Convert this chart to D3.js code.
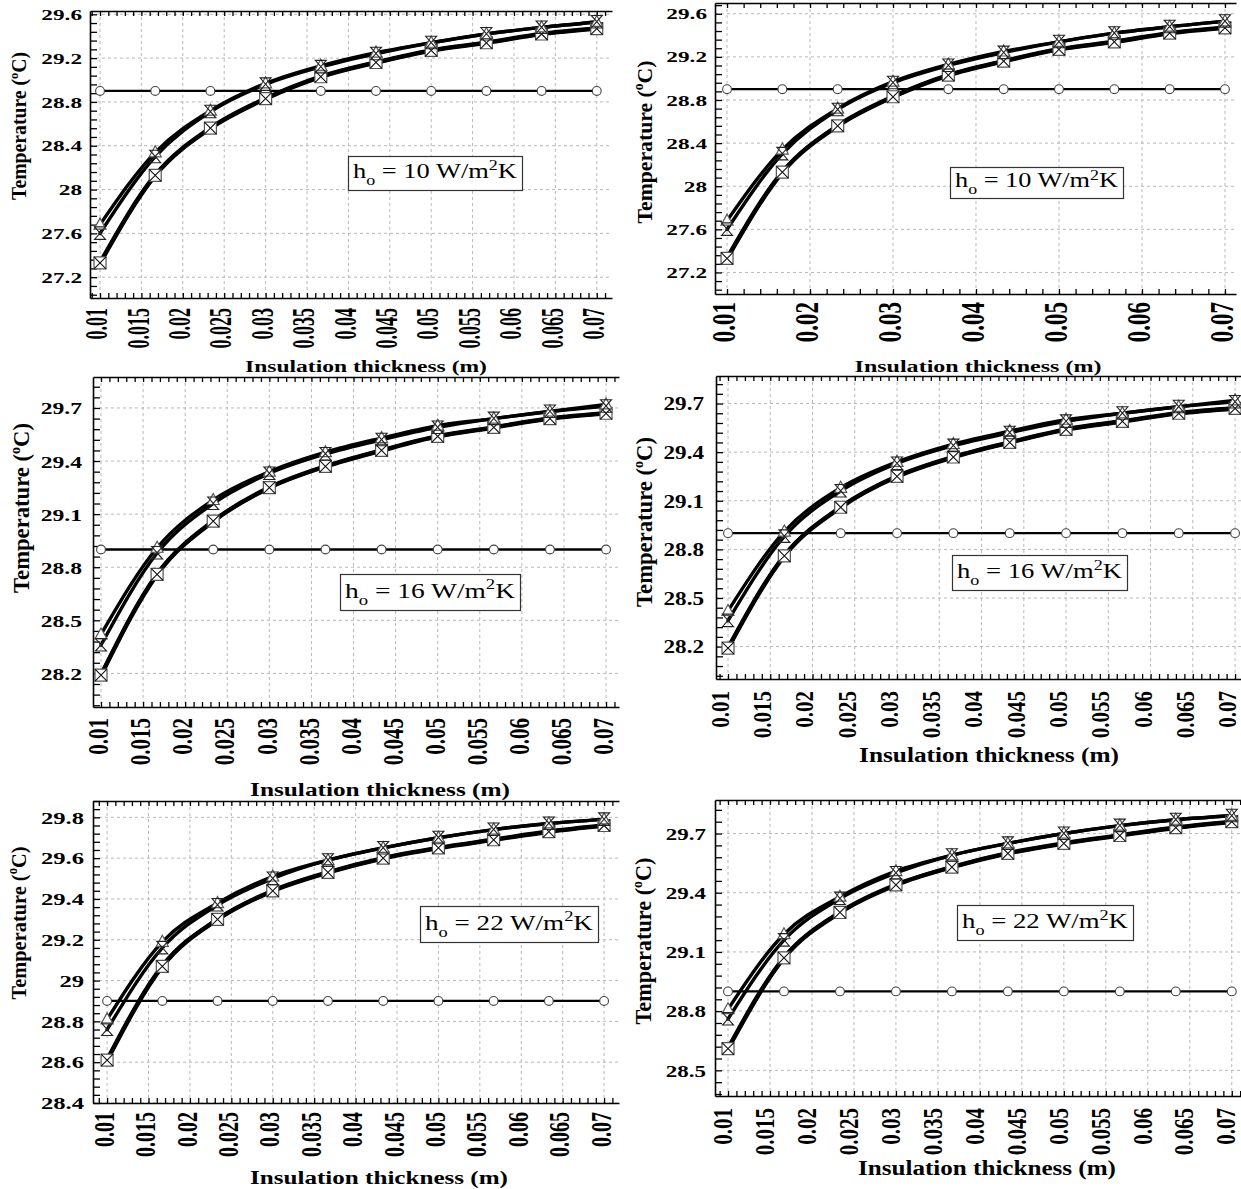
<!DOCTYPE html>
<html>
<head>
<meta charset="utf-8">
<script src="https://cdn.jsdelivr.net/npm/d3@7"></script>
<style>
  html, body { margin: 0; padding: 0; background: #ffffff; }
  svg { display: block; }
</style>
</head>
<body>
<svg id="fig" width="1241" height="1189"></svg>
<script>
// ---------------------------------------------------------------
// Data: temperature (°C) vs. insulation thickness (m)
// ---------------------------------------------------------------
const thickness = [0.01, 0.016667, 0.023333, 0.03, 0.036667, 0.043333, 0.05, 0.056667, 0.063333, 0.07];

// h_o = 10 W/m2K
const h10TriUp   = [27.68, 28.34, 28.72, 28.97, 29.13, 29.25, 29.34, 29.42, 29.48, 29.53];
const h10TriDown = [27.60, 28.30, 28.71, 28.96, 29.12, 29.24, 29.34, 29.42, 29.48, 29.53];
const h10Square  = [27.33, 28.13, 28.56, 28.83, 29.03, 29.16, 29.27, 29.34, 29.42, 29.47];
const h10Cross   = [27.33, 28.13, 28.56, 28.83, 29.03, 29.16, 29.27, 29.34, 29.42, 29.47];
const h10Ambient = [28.9, 28.9, 28.9, 28.9, 28.9, 28.9, 28.9, 28.9, 28.9, 28.9];

// h_o = 16 W/m2K
const h16TriUp   = [28.42, 28.91, 29.18, 29.34, 29.45, 29.53, 29.60, 29.64, 29.68, 29.72];
const h16TriDown = [28.36, 28.88, 29.16, 29.33, 29.44, 29.52, 29.59, 29.64, 29.68, 29.71];
const h16Square  = [28.19, 28.76, 29.06, 29.25, 29.37, 29.46, 29.54, 29.59, 29.64, 29.67];
const h16Cross   = [28.19, 28.76, 29.06, 29.25, 29.37, 29.46, 29.54, 29.59, 29.64, 29.67];
const h16Ambient = [28.9, 28.9, 28.9, 28.9, 28.9, 28.9, 28.9, 28.9, 28.9, 28.9];

// h_o = 22 W/m2K
const h22TriUp   = [28.81, 29.19, 29.38, 29.51, 29.59, 29.65, 29.70, 29.74, 29.77, 29.79];
const h22TriDown = [28.76, 29.16, 29.37, 29.50, 29.59, 29.65, 29.70, 29.74, 29.77, 29.79];
const h22Square  = [28.61, 29.07, 29.30, 29.44, 29.53, 29.60, 29.65, 29.69, 29.73, 29.76];
const h22Cross   = [28.61, 29.07, 29.30, 29.44, 29.53, 29.60, 29.65, 29.69, 29.73, 29.76];
const h22Ambient = [28.9, 28.9, 28.9, 28.9, 28.9, 28.9, 28.9, 28.9, 28.9, 28.9];

// Tick values
const xTicksFine   = [0.01, 0.015, 0.02, 0.025, 0.03, 0.035, 0.04, 0.045, 0.05, 0.055, 0.06, 0.065, 0.07];
const xTicksCoarse = [0.01, 0.02, 0.03, 0.04, 0.05, 0.06, 0.07];
const yTicks10  = [27.2, 27.6, 28, 28.4, 28.8, 29.2, 29.6];
const yTicks16  = [28.2, 28.5, 28.8, 29.1, 29.4, 29.7];
const yTicks22a = [28.4, 28.6, 28.8, 29, 29.2, 29.4, 29.6, 29.8];
const yTicks22b = [28.5, 28.8, 29.1, 29.4, 29.7];

// Text
const hValues = ["10", "16", "22"];
const xTitle = "Insulation thickness (m)";

// ---------------------------------------------------------------
// Series tables built from the arrays above
// ---------------------------------------------------------------
function seriesSet(triUp, triDown, square, cross, ambient) {
  const pts = arr => thickness.map((t, i) => ({ x: t, y: arr[i] }));
  return {
    ambient: pts(ambient),
    square: pts(square),
    cross: pts(cross),
    triUp: pts(triUp),
    triDown: pts(triDown)
  };
}
const sets = {
  "10": seriesSet(h10TriUp, h10TriDown, h10Square, h10Cross, h10Ambient),
  "16": seriesSet(h16TriUp, h16TriDown, h16Square, h16Cross, h16Ambient),
  "22": seriesSet(h22TriUp, h22TriDown, h22Square, h22Cross, h22Ambient)
};

// ---------------------------------------------------------------
// Panel layout
// ---------------------------------------------------------------
const panels = [
  { h: hValues[0], xTicks: xTicksFine, yTicks: yTicks10,
    l: 90, t: 11, r: 612, b: 298, xDom: [0.00879, 0.07184], yDom: [27.01, 29.63],
    yTick: { font: 15, sx: 1.55, gap: 8 }, xTick: { font: 18, sx: 1.7, gap: 10, dx: -4 },
    yTitle: { cx: 19, cy: 126, len: 148, font: 21 },
    xTitle: { cx: 366, cy: 366, w: 242, font: 16 },
    box: { x: 348, y: 156, w: 174, h: 34, font: 21 } },
  { h: hValues[0], xTicks: xTicksCoarse, yTicks: yTicks10,
    l: 715, t: 3, r: 1236, b: 294, xDom: [0.00855, 0.07133], yDom: [27.0, 29.70],
    yTick: { font: 15, sx: 1.55, gap: 8 }, xTick: { font: 23, sx: 1.45, gap: 8, dx: -4 },
    yTitle: { cx: 644, cy: 142, len: 163, font: 22 },
    xTitle: { cx: 978, cy: 366, w: 247, font: 16 },
    box: { x: 950, y: 167, w: 173, h: 31, font: 20 } },
  { h: hValues[1], xTicks: xTicksFine, yTicks: yTicks16,
    l: 93, t: 377, r: 619, b: 707, xDom: [0.00905, 0.07154], yDom: [28.01, 29.875],
    yTick: { font: 17.5, sx: 1.35, gap: 11 }, xTick: { font: 21, sx: 1.45, gap: 11, dx: -4 },
    yTitle: { cx: 21, cy: 508, len: 170, font: 23 },
    xTitle: { cx: 380, cy: 789, w: 260, font: 19 },
    box: { x: 340, y: 574, w: 180, h: 36, font: 22 } },
  { h: hValues[1], xTicks: xTicksFine, yTicks: yTicks16,
    l: 716, t: 376, r: 1241, b: 679, xDom: [0.00858, 0.0707], yDom: [28.0, 29.87],
    yTick: { font: 18.5, sx: 1.25, gap: 12 }, xTick: { font: 21, sx: 1.15, gap: 12, dx: -8 },
    yTitle: { cx: 644, cy: 522, len: 170, font: 23 },
    xTitle: { cx: 989, cy: 755, w: 260, font: 20 },
    box: { x: 952, y: 555, w: 175, h: 35, font: 22 } },
  { h: hValues[2], xTicks: xTicksFine, yTicks: yTicks22a,
    l: 93, t: 801, r: 619, b: 1103, xDom: [0.0083, 0.0718], yDom: [28.4, 29.88],
    yTick: { font: 17, sx: 1.45, gap: 9 }, xTick: { font: 20, sx: 1.45, gap: 9, dx: -4 },
    yTitle: { cx: 18, cy: 923, len: 153, font: 22 },
    xTitle: { cx: 379, cy: 1177, w: 258, font: 19 },
    box: { x: 420, y: 906, w: 178, h: 36, font: 22 } },
  { h: hValues[2], xTicks: xTicksFine, yTicks: yTicks22b,
    l: 715, t: 800, r: 1241, b: 1096, xDom: [0.00845, 0.0711], yDom: [28.37, 29.87],
    yTick: { font: 17, sx: 1.35, gap: 9 }, xTick: { font: 21, sx: 1.25, gap: 12, dx: -6 },
    yTitle: { cx: 643, cy: 941, len: 167, font: 23 },
    xTitle: { cx: 987, cy: 1168, w: 258, font: 20 },
    box: { x: 957, y: 905, w: 176, h: 35, font: 22 } }
];

const SERIF = "'Liberation Serif', 'Times New Roman', Times, serif";
const fmt = d3.format("~g");

// marker shapes
const markerPaths = {
  triUp:   "M0,-6.5L6,4.5L-6,4.5Z",
  triDown: "M-5.5,-6.5L5.5,-6.5L-5.5,6L5.5,6Z",
  square:  "M-6,-6H6V6H-6Z",
  cross:   "M-6,-6L6,6M6,-6L-6,6"
};

const svg = d3.select("#fig");
svg.append("rect").attr("width", 1241).attr("height", 1189).attr("fill", "#fff");

function minorTicks(ticks, dom) {
  const step = (ticks[1] - ticks[0]) / 5;
  const out = [];
  for (let k = -20; k <= 400; k++) {
    const v = ticks[0] + k * step;
    if (v < dom[0] - 1e-9 || v > dom[1] + 1e-9) continue;
    if (ticks.some(m => Math.abs(m - v) < step / 10)) continue;
    out.push(v);
  }
  return out;
}

function drawPanel(p) {
  const g = svg.append("g");
  const x = d3.scaleLinear().domain(p.xDom).range([p.l, p.r]);
  const y = d3.scaleLinear().domain(p.yDom).range([p.b, p.t]);
  const data = sets[p.h];

  // dashed grid
  const grid = g.append("g").attr("stroke", "#b8b8b8").attr("stroke-width", 1)
    .attr("stroke-dasharray", "3,3");
  grid.selectAll(".vg").data(p.xTicks).join("line")
    .attr("x1", d => x(d)).attr("x2", d => x(d))
    .attr("y1", p.t).attr("y2", p.b);
  grid.selectAll(".hg").data(p.yTicks).join("line")
    .attr("x1", p.l).attr("x2", p.r)
    .attr("y1", d => y(d)).attr("y2", d => y(d));

  const xMinor = minorTicks(p.xTicks, p.xDom);
  const yMinor = minorTicks(p.yTicks, p.yDom);

  // bottom axis
  const gx = g.append("g").attr("transform", `translate(0,${p.b})`)
    .call(d3.axisBottom(x).tickValues(p.xTicks).tickSizeInner(-5).tickSizeOuter(0).tickFormat(fmt));
  g.append("g").attr("transform", `translate(0,${p.b})`)
    .call(d3.axisBottom(x).tickValues(xMinor).tickSizeInner(-5).tickSizeOuter(0).tickFormat(""))
    .select(".domain").remove();
  // top axis
  g.append("g").attr("transform", `translate(0,${p.t})`)
    .call(d3.axisTop(x).tickValues(p.xTicks.concat(xMinor)).tickSizeInner(-5).tickSizeOuter(0).tickFormat(""));
  // left axis
  const gy = g.append("g").attr("transform", `translate(${p.l},0)`)
    .call(d3.axisLeft(y).tickValues(p.yTicks).tickSizeInner(-7).tickSizeOuter(0).tickFormat(fmt));
  g.append("g").attr("transform", `translate(${p.l},0)`)
    .call(d3.axisLeft(y).tickValues(yMinor).tickSizeInner(-7).tickSizeOuter(0).tickFormat(""))
    .select(".domain").remove();

  g.selectAll(".domain").attr("stroke", "#000").attr("stroke-width", 1.6);
  g.selectAll(".tick line").attr("stroke", "#000").attr("stroke-width", 1.3);

  gx.selectAll(".tick text")
    .attr("x", 0).attr("y", 0).attr("dy", "0.35em")
    .attr("text-anchor", "end")
    .attr("transform", `translate(${p.xTick.dx},${p.xTick.gap}) scale(${p.xTick.sx},1) rotate(-90)`)
    .attr("font-family", SERIF).attr("font-weight", "bold")
    .attr("font-size", p.xTick.font).attr("fill", "#000");

  gy.selectAll(".tick text")
    .attr("x", -p.yTick.gap / p.yTick.sx).attr("dy", "0.34em")
    .attr("text-anchor", "end")
    .attr("transform", `scale(${p.yTick.sx},1)`)
    .attr("font-family", SERIF).attr("font-weight", "bold")
    .attr("font-size", p.yTick.font).attr("fill", "#000");

  // series lines
  const line = d3.line().x(d => x(d.x)).y(d => y(d.y)).curve(d3.curveMonotoneX);
  const lines = g.append("g").attr("fill", "none").attr("stroke", "#000")
    .attr("stroke-linejoin", "round").attr("stroke-linecap", "round");
  lines.append("path").attr("d", line(data.ambient)).attr("stroke-width", 2.3);
  lines.append("path").attr("d", line(data.square)).attr("stroke-width", 4.6);
  lines.append("path").attr("d", line(data.cross)).attr("stroke-width", 3.6);
  lines.append("path").attr("d", line(data.triUp)).attr("stroke-width", 3.4);
  lines.append("path").attr("d", line(data.triDown)).attr("stroke-width", 3.4);

  // markers
  const mk = g.append("g");
  mk.selectAll(".amb").data(data.ambient).join("circle")
    .attr("cx", d => x(d.x)).attr("cy", d => y(d.y)).attr("r", 4.4)
    .attr("fill", "#fff").attr("stroke", "#444").attr("stroke-width", 1.1);
  const sym = (arr, key, fill, stroke, sw) =>
    mk.selectAll("." + key).data(arr).join("path")
      .attr("transform", d => `translate(${x(d.x)},${y(d.y)})`)
      .attr("d", markerPaths[key])
      .attr("fill", fill).attr("stroke", stroke).attr("stroke-width", sw);
  sym(data.square, "square", "#fff", "#555", 1.2);
  sym(data.cross, "cross", "none", "#111", 1.1);
  sym(data.triUp, "triUp", "#fff", "#555", 1.2);
  sym(data.triDown, "triDown", "none", "#222", 1.1);

  // y-axis title
  const yt = g.append("text")
    .attr("font-family", SERIF).attr("font-weight", "bold")
    .attr("font-size", p.yTitle.font).attr("fill", "#000")
    .attr("text-anchor", "middle").attr("dy", "0.35em");
  yt.append("tspan").text("Temperature (");
  yt.append("tspan").attr("font-size", p.yTitle.font * 0.62).attr("dy", -p.yTitle.font * 0.4).text("o");
  yt.append("tspan").attr("dy", p.yTitle.font * 0.4).text("C)");
  const ytLen = yt.node().getComputedTextLength();
  yt.attr("transform", `translate(${p.yTitle.cx},${p.yTitle.cy}) rotate(-90) scale(${p.yTitle.len / ytLen},1)`);

  // x-axis title
  const xt = g.append("text")
    .attr("font-family", SERIF).attr("font-weight", "bold")
    .attr("font-size", p.xTitle.font).attr("fill", "#000")
    .attr("text-anchor", "middle").attr("dy", "0.35em")
    .text(xTitle);
  const xtLen = xt.node().getComputedTextLength();
  xt.attr("transform", `translate(${p.xTitle.cx},${p.xTitle.cy}) scale(${p.xTitle.w / xtLen},1)`);

  // annotation box
  const bx = p.box;
  g.append("rect").attr("x", bx.x + 0.5).attr("y", bx.y + 0.5)
    .attr("width", bx.w).attr("height", bx.h)
    .attr("fill", "#fff").attr("stroke", "#333").attr("stroke-width", 1.2);
  const bt = g.append("text")
    .attr("font-family", SERIF).attr("font-size", bx.font).attr("fill", "#000");
  const sub = bx.font * 0.68;
  bt.append("tspan").text("h");
  bt.append("tspan").attr("font-size", sub).attr("dy", bx.font * 0.32).text("o");
  bt.append("tspan").attr("dy", -bx.font * 0.32).text(` = ${p.h} W/m`);
  bt.append("tspan").attr("font-size", sub).attr("dy", -bx.font * 0.38).text("2");
  bt.append("tspan").attr("dy", bx.font * 0.38).text("K");
  const btLen = bt.node().getComputedTextLength();
  const pad = 5;
  bt.attr("transform", `translate(${bx.x + pad},${bx.y + bx.h * 0.66}) scale(${(bx.w - 2 * pad) / btLen},1)`);
}

panels.forEach(drawPanel);
</script>
</body>
</html>
